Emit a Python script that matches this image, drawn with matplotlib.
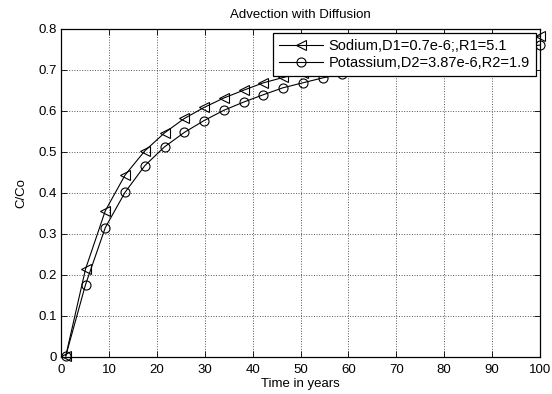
import matplotlib
matplotlib.use("Agg")
import matplotlib.pyplot as plt

plt.rcParams['font.family'] = ['Liberation Sans', 'DejaVu Sans']

time_years = [1, 5.125, 9.25, 13.375, 17.5, 21.625, 25.75, 29.875, 34, 38.125,
              42.25, 46.375, 50.5, 54.625, 58.75, 62.875, 67, 71.125, 75.25,
              79.375, 83.5, 87.625, 91.75, 95.875, 100]
sodium = [0.002, 0.214, 0.356, 0.443, 0.502, 0.546, 0.581, 0.608, 0.631, 0.650,
          0.668, 0.681, 0.693, 0.704, 0.714, 0.723, 0.731, 0.739, 0.746,
          0.753, 0.759, 0.765, 0.771, 0.777, 0.782]
potassium = [0.002, 0.176, 0.315, 0.401, 0.466, 0.512, 0.547, 0.576, 0.601, 0.621,
             0.639, 0.656, 0.668, 0.680, 0.690, 0.700, 0.709, 0.717, 0.724,
             0.731, 0.737, 0.743, 0.749, 0.755, 0.760]
sodium_label = "Sodium,D1=0.7e-6;,R1=5.1"
potassium_label = "Potassium,D2=3.87e-6,R2=1.9"
x_ticks = [0, 10, 20, 30, 40, 50, 60, 70, 80, 90, 100]
y_ticks = [0, 0.1, 0.2, 0.3, 0.4, 0.5, 0.6, 0.7, 0.8]
y_tick_labels = ["0", "0.1", "0.2", "0.3", "0.4", "0.5", "0.6", "0.7", "0.8"]

fig = plt.figure(figsize=(5.52, 3.94), dpi=100)
ax = fig.add_axes([61/552, 1-356.7/394, (540-61)/552, (356.7-28.7)/394])

ax.plot(time_years, sodium, color='black', lw=0.8, marker='<', ms=6.5,
        mfc='none', mec='black', mew=0.8, label=sodium_label, clip_on=False, zorder=3)
ax.plot(time_years, potassium, color='black', lw=0.8, marker='o', ms=6.5,
        mfc='none', mec='black', mew=0.8, label=potassium_label, clip_on=False, zorder=3)

ax.set_xlim(0, 100)
ax.set_ylim(0, 0.8)
ax.set_xticks(x_ticks)
ax.set_yticks(y_ticks)
ax.set_yticklabels(y_tick_labels)
ax.tick_params(direction='in', top=True, right=True, labelsize=9.5, length=4, width=0.6)
ax.tick_params(axis='x', pad=5)
ax.tick_params(axis='y', pad=3)
ax.grid(True, linestyle=':', color='#555555', lw=0.7)
for s in ax.spines.values():
    s.set_linewidth(0.9)
    s.set_color('black')

ax.set_title("Advection with Diffusion", fontsize=9.5, pad=8)
ax.set_xlabel("Time in years", fontsize=9.5, labelpad=2)
ax.set_ylabel("C/Co", fontsize=9.5, labelpad=8)

leg = ax.legend(loc='upper right', fontsize=10.5, frameon=True, fancybox=False,
                edgecolor='black', framealpha=1, handlelength=3.0,
                borderaxespad=0.3, borderpad=0.4, labelspacing=0.2, handletextpad=0.4)
leg.get_frame().set_linewidth(0.9)
leg.set_zorder(5)

fig.savefig("out.png", dpi=100)
